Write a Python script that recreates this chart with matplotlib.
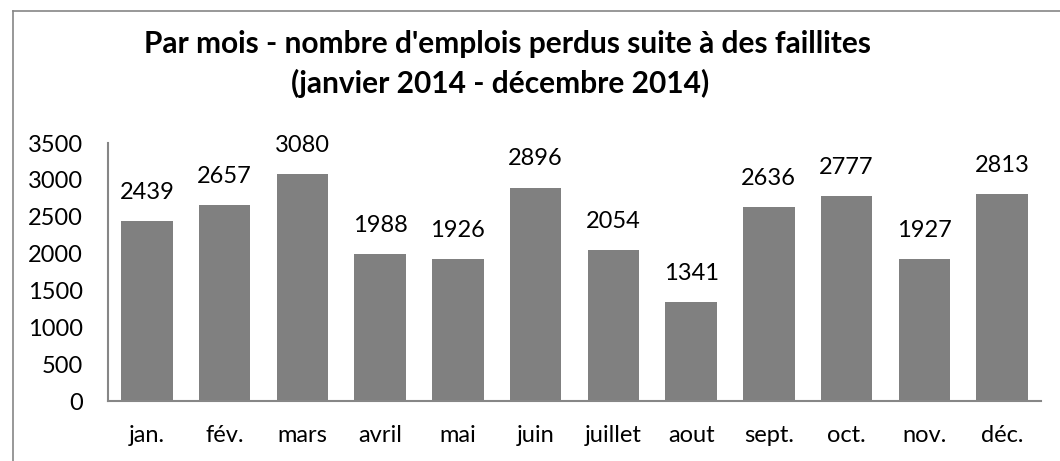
import matplotlib
matplotlib.use("Agg")
import matplotlib.pyplot as plt
from matplotlib.lines import Line2D

months = ["jan.", "fév.", "mars", "avril", "mai", "juin", "juillet", "aout",
          "sept.", "oct.", "nov.", "déc."]
values = [2439, 2657, 3080, 1988, 1926, 2896, 2054, 1341, 2636, 2777, 1927, 2813]
yticks = [0, 500, 1000, 1500, 2000, 2500, 3000, 3500]

plt.rcParams['font.family'] = ['Lato', 'DejaVu Sans']

W, H = 1060, 461
fig = plt.figure(figsize=(W / 100, H / 100), dpi=100)
ax = fig.add_axes([108 / W, 1 - 401 / H, (1041 - 108) / W, (401 - 143) / H])

x = list(range(len(months)))
ax.bar(x, values, width=0.66, color="#808080", zorder=2)
ax.set_xlim(-0.5, len(months) - 0.5)
ax.set_ylim(0, 3500)
ax.set_yticks(yticks)
ax.set_xticks(x)
ax.set_xticklabels(months, fontsize=17)
ax.tick_params(axis='y', labelsize=17, length=0, pad=18)
ax.tick_params(axis='x', length=0, pad=17)

for s in ["top", "right"]:
    ax.spines[s].set_visible(False)
for s in ["left", "bottom"]:
    ax.spines[s].set_color("#868686")
    ax.spines[s].set_linewidth(1.5)

for xi, v in zip(x, values):
    ax.annotate(str(v), (xi, v), xytext=(0, 13), textcoords="offset points",
                ha="center", va="bottom", fontsize=17, color="black")

fig.text(508 / W, 1 - 53 / H, "Par mois - nombre d'emplois perdus suite à des faillites",
         ha="center", va="baseline", fontsize=21.5, fontweight="bold")
fig.text(500 / W, 1 - 93 / H, "(janvier 2014 - décembre 2014)",
         ha="center", va="baseline", fontsize=21.5, fontweight="bold")

# outer chart frame (left and top edges visible)
fig.add_artist(Line2D([13 / W, 13 / W], [0, 1 - 11 / H], transform=fig.transFigure,
                      color="#868686", lw=1.2))
fig.add_artist(Line2D([13 / W, 1], [1 - 11 / H, 1 - 11 / H], transform=fig.transFigure,
                      color="#868686", lw=1.2))

fig.savefig("out.png", dpi=100)
